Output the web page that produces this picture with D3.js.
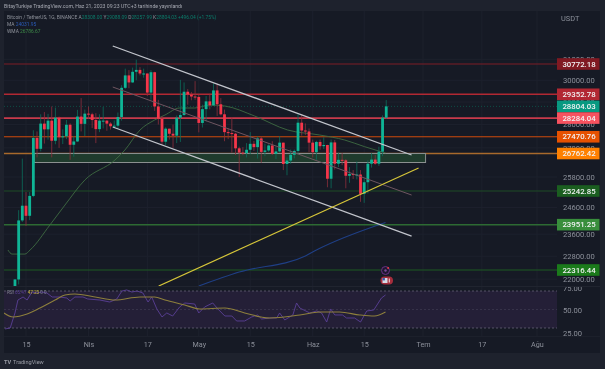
<!DOCTYPE html>
<html>
<head>
<meta charset="utf-8">
<script src="https://cdn.jsdelivr.net/npm/d3@7"></script>
<style>
  html, body { margin: 0; padding: 0; background: #1e222d; overflow: hidden; }
  svg { display: block; filter: blur(0.35px); }
  text { font-family: Roboto, "Open Sans", sans-serif; }
  .axis path, .axis line { display: none; }
</style>
</head>
<body>
<div id="chart"></div>
<script>
// Daily candles, first one is 2023-03-12
const opens = [20620,21990,24110,24670,24285,25050,27420,26960,28040,27790,28170,27300,28300,27450,27490,27990,27130,27270,28350,28030,
  28480,28450,28200,27800,28170,28170,28040,27925,27950,28330,29650,30230,29900,30400,30490,30320,30320,29430,30380,28800,28250,27260,27820,27600,27520,28300,28420,29470,29340,29250,
  29230,28070,28680,29030,28850,29530,28900,28450,27670,27630,27600,26980,26800,26780,26920,27170,27030,27400,26830,26890,27100,26750,26850,27220,26330,26470,26710,26870,28080,27740,27700,
  27220,26820,27250,27070,27120,25730,27230,26340,26500,26480,25850,25920,25900,25900,25130,25590,26340,26510,26340,26840,28300];
const highs = [22000,24500,26550,25200,25200,27750,27700,28450,28550,28470,28800,28750,28350,27790,28200,28050,27500,28650,29180,28660,
  28800,28520,28500,28450,28780,28190,28100,28180,28530,29770,30550,30480,30600,30980,30620,30550,30320,30480,30400,29100,28370,27880,27820,28000,28400,30020,29900,29590,29460,29960,
  29340,28880,29270,29380,29850,29840,29180,28660,27830,28330,27640,27050,27030,27200,27670,27290,27480,27480,27180,27150,27280,27050,27500,27220,26600,26930,26930,28450,28440,28050,27830,
  27350,27300,27350,27450,27130,27350,27330,26800,26780,26530,26200,26080,26430,26080,25750,26480,26780,26700,27050,28400,29088];
const lows = [20430,21820,24050,23900,24120,25000,26600,26850,27180,27350,26600,27150,27000,27160,27370,26500,26630,27250,27700,27500,
  28250,27850,27200,27670,27830,27730,27780,27880,27800,28170,29600,29630,29880,30000,30230,30120,29270,29100,28600,28000,27130,27120,27350,27000,27200,27250,28380,28880,29080,29100,
  27660,27870,28130,28670,28830,28380,28400,27280,27370,26800,26700,25800,26690,26600,26730,26870,26550,26380,26650,26830,26700,26530,26800,26080,25870,26340,26560,26760,27520,27550,26820,
  26600,26500,26920,26950,25390,25350,26100,26200,26280,25350,25570,25720,25700,24820,24780,25150,26180,26300,26250,26650,28257];
const closes = [21990,24110,24670,24285,25050,27420,26960,28040,27790,28170,27300,28300,27450,27490,27990,27130,27270,28350,28030,28480,
  28450,28200,27800,28170,28170,28040,27925,27950,28330,29650,30230,29900,30400,30490,30320,30320,29430,30380,28800,28250,27260,27820,27600,27520,28300,28420,29470,29340,29250,29230,
  28070,28680,29030,28850,29530,28900,28450,27670,27630,27600,26980,26800,26780,26920,27170,27030,27400,26830,26890,27100,26750,26850,27220,26330,26470,26710,26870,28080,27740,27700,27220,
  26820,27250,27070,27120,25730,27230,26340,26500,26480,25850,25920,25900,25900,25130,25590,26340,26510,26340,26840,28300,28804.03];

// Moving averages and RSI: days counted from 15 March
const wmaDays = [-4.9,-3.8,-0.3,1.1,6.5,10.6,16,24.2,26.9,31,35,37.8,41.8,45.9,50,54.1,62.2,71.2,79.9,86.7,92.1,97.8];
const wmaValues = [23022,22878,22878,23022,23938,24696,25678,26492,26908,27761,28198,28419,28731,28731,28866,28820,28374,27761,27546,27332,27050,26786.67];
const maDays = [47,58,76,79,97.8];
const maValues = [21766,22245,22810,23022,24031.95];
const rsiDays = [-5.7,-4.3,-3,-2.2,-0.8,0.3,1.6,3,4.3,5.7,7.1,9.2,11.1,12,13.3,15.5,16.8,20.1,22.8,24.7,26.1,27.4,28.8,30.2,31.8,33.2,34.2,35.6,37,38.3,39.9,41.8,43.2,45.9,47,48.6,50.8,52.2,54.1,56,57.3,59.5,61.4,63,64.1,66.3,68.2,69,70.4,72.6,73.6,74.5,77.2,79.1,80.4,81.8,82.9,84,86.1,87.2,89.4,91,92.7,94.6,96.7,97.8];
const rsiValues = [23.7,25,45.3,62.8,66.9,62.8,73.6,72.3,73.6,72.3,66.9,66.9,65.5,61.5,66.9,66.9,64.2,62.8,60.1,64.2,75,76.4,73.6,75,72.3,60.1,66.9,50.7,39.9,45.3,41.2,53.4,58.8,57.4,45.3,53.4,58.8,50.7,41.2,41.2,34.5,34.5,39.9,42.6,37.2,38.5,38.5,45.3,35.8,42.6,58.8,52,45.3,48,45.3,33.1,50.7,42.6,42.6,38.5,38.5,33.1,48,49.3,65.5,69.6];
const rsiMaDays = [-6,-3.5,0.3,3.8,7.9,10.6,13.3,18.8,24.2,31,35,37.8,43.2,47.3,54.1,59.5,66.3,74.5,79.9,85.3,90.8,94.8,97.8];
const rsiMaValues = [45.3,39.9,43.9,52,62.8,69.6,70.9,66.9,62.8,66.9,66.9,62.8,56.1,50.7,52,45.3,38.5,42.6,46.6,46.6,42.6,41.2,46.6];

// Drawn levels and trend lines
const levels = [30772.18,29352.78,28284.04,27470.76,26762.42,25242.85,23951.25,22316.44];
const lastPrice = 28804.03;
const zoneDays = [2.2,108.7];
const zonePrices = [26762.42,26390];
const channelTopDays = [23.6,104.9];
const channelTopPrices = [31649,26700];
const channelMidDays = [23.6,104.9];
const channelMidPrices = [29687,25084];
const channelLowDays = [23.6,104.9];
const channelLowPrices = [27892,23528];
const yellowDays = [36.1,106.8];
const yellowPrices = [21766,26163];

// Axis labels
const priceTicks = [31000,30000,29000,28000,27000,25800,24600,23600,22800,22000];
const rsiTicks = [75,50,25];
const timeTicks = ["2023-03-15","2023-04-01","2023-04-17","2023-05-01","2023-05-15","2023-06-01","2023-06-15","2023-07-01","2023-07-17","2023-08-01"];
const timeLabels = ["15","Nis","17","May","15","Haz","15","Tem","17","Ağu"];

const width = 605, height = 369;
const DAY = 864e5;
const parseDay = d3.utcParse("%Y-%m-%d");
const base = parseDay("2023-03-15");

const x = d3.scaleUtc().domain([base, parseDay("2023-07-01")]).range([26, 423]);
const y = d3.scaleLog().domain([22316.44, 30772.18]).range([270, 64]);
const rsiY = d3.scaleLinear().domain([25, 75]).range([328, 291]);
const rsiLabelY = d3.scaleLinear().domain([25, 75]).range([333, 288]);
const dayX = (n) => x(new Date(+base + n * DAY));

const svg = d3.select("#chart").append("svg").attr("width", width).attr("height", height);
svg.append("rect").attr("width", width).attr("height", height).attr("fill", "#1e222d");
svg.append("rect").attr("x", 4).attr("y", 11).attr("width", 596).attr("height", 342).attr("fill", "#161a25");

const defs = svg.append("defs");
defs.append("clipPath").attr("id", "main").append("rect").attr("x", 4).attr("y", 11).attr("width", 553).attr("height", 275);
defs.append("clipPath").attr("id", "pane").append("rect").attr("x", 4).attr("y", 287).attr("width", 553).attr("height", 49);
defs.append("clipPath").attr("id", "paneAxis").append("rect").attr("x", 557).attr("y", 287).attr("width", 43).attr("height", 49);

// Grid
svg.append("g").selectAll("line").data(timeTicks).join("line")
  .attr("x1", (d) => x(parseDay(d))).attr("x2", (d) => x(parseDay(d)))
  .attr("y1", 11).attr("y2", 336).attr("stroke", "#1d212d").attr("stroke-width", 1);
svg.append("g").selectAll("line").data(priceTicks).join("line")
  .attr("x1", 4).attr("x2", 557).attr("y1", (d) => y(d)).attr("y2", (d) => y(d))
  .attr("stroke", "#1d212d").attr("stroke-width", 1);
svg.append("line").attr("x1", 4).attr("x2", 600).attr("y1", 286.5).attr("y2", 286.5).attr("stroke", "#20242f");
svg.append("line").attr("x1", 4).attr("x2", 600).attr("y1", 336.5).attr("y2", 336.5).attr("stroke", "#1c202b");

const main = svg.append("g").attr("clip-path", "url(#main)");

// Support / resistance lines
const levelColors = ["#7d1d27","#b22833","#c93a4b","#d14a0c","#a86a2c","#1f4d26","#2d6a33","#1c5a22"];
const levelWidths = [1,1.6,1.8,1,1.5,1,1.5,1];
main.append("g").selectAll("line").data(levels).join("line")
  .attr("x1", 4).attr("x2", 557).attr("y1", (d) => y(d)).attr("y2", (d) => y(d))
  .attr("stroke", (d, i) => levelColors[i]).attr("stroke-width", (d, i) => levelWidths[i]);
main.append("line").attr("x1", 4).attr("x2", 557).attr("y1", y(lastPrice)).attr("y2", y(lastPrice))
  .attr("stroke", "#0d5a4c").attr("stroke-width", 0.8).attr("stroke-dasharray", "1 2");

// Demand zone
main.append("rect")
  .attr("x", dayX(zoneDays[0])).attr("y", y(zonePrices[0]))
  .attr("width", dayX(zoneDays[1]) - dayX(zoneDays[0])).attr("height", y(zonePrices[1]) - y(zonePrices[0]))
  .attr("fill", "#1f3b2d").attr("stroke", "#8b9090").attr("stroke-width", 1);

// Moving averages
const line = d3.line().x((d) => dayX(d[0])).y((d) => y(d[1])).curve(d3.curveMonotoneX);
main.append("path").attr("d", line(d3.zip(wmaDays, wmaValues)))
  .attr("fill", "none").attr("stroke", "#3e6b42").attr("stroke-width", 0.9);
main.append("path").attr("d", line(d3.zip(maDays, maValues)))
  .attr("fill", "none").attr("stroke", "#1f3f85").attr("stroke-width", 1.1);

// Candles
const candles = closes.map((c, i) => ({ day: i - 3, o: opens[i], h: highs[i], l: lows[i], c }));
const up = (d) => d.c >= d.o;
const candleG = main.append("g").selectAll("g").data(candles).join("g");
candleG.append("line")
  .attr("x1", (d) => dayX(d.day)).attr("x2", (d) => dayX(d.day))
  .attr("y1", (d) => y(d.h)).attr("y2", (d) => y(d.l))
  .attr("stroke", (d) => up(d) ? "#0b6e5c" : "#8e2f3c").attr("stroke-width", 0.8);
candleG.append("rect")
  .attr("x", (d) => dayX(d.day) - 1.4).attr("width", 2.8)
  .attr("y", (d) => y(Math.max(d.o, d.c)))
  .attr("height", (d) => Math.max(1, Math.abs(y(d.o) - y(d.c))))
  .attr("fill", (d) => up(d) ? "#0fb596" : "#f5364a");

// Trend lines
const straight = d3.line().x((d) => dayX(d[0])).y((d) => y(d[1]));
main.append("path").attr("d", straight(d3.zip(channelMidDays, channelMidPrices)))
  .attr("fill", "none").attr("stroke", "#6e5560").attr("stroke-width", 1);
main.append("path").attr("d", straight(d3.zip(channelTopDays, channelTopPrices)))
  .attr("fill", "none").attr("stroke", "#c2c5cc").attr("stroke-width", 1.3);
main.append("path").attr("d", straight(d3.zip(channelLowDays, channelLowPrices)))
  .attr("fill", "none").attr("stroke", "#c2c5cc").attr("stroke-width", 1.3);
main.append("path").attr("d", straight(d3.zip(yellowDays, yellowPrices)))
  .attr("fill", "none").attr("stroke", "#d6c63a").attr("stroke-width", 1.2);

// Event icons
const eventX = dayX(97.8);
main.append("circle").attr("cx", eventX).attr("cy", 270.5).attr("r", 4)
  .attr("fill", "#1e1830").attr("stroke", "#6a2f86").attr("stroke-width", 1);
main.append("circle").attr("cx", eventX).attr("cy", 270.5).attr("r", 1.2).attr("fill", "#7a4a9a");
main.append("circle").attr("cx", eventX + 2.6).attr("cy", 268).attr("r", 1).attr("fill", "#e53945");
main.append("rect").attr("x", eventX - 5).attr("y", 276.5).attr("width", 12.5).attr("height", 8).attr("rx", 4).attr("fill", "#a52d3c");
main.append("rect").attr("x", eventX - 3).attr("y", 278).attr("width", 5).attr("height", 5).attr("fill", "#d7dbe6");
main.append("rect").attr("x", eventX - 3).attr("y", 278).attr("width", 2.4).attr("height", 2.4).attr("fill", "#3d5aa8");
main.append("rect").attr("x", eventX + 3.2).attr("y", 278.5).attr("width", 1.2).attr("height", 4).attr("fill", "#e6c9cc");

// RSI pane
const pane = svg.append("g").attr("clip-path", "url(#pane)");
pane.append("rect").attr("x", 4).attr("y", rsiY(75)).attr("width", 553).attr("height", rsiY(25) - rsiY(75)).attr("fill", "#241f37");
pane.append("g").selectAll("line").data(rsiTicks).join("line")
  .attr("x1", 4).attr("x2", 557).attr("y1", (d) => rsiY(d)).attr("y2", (d) => rsiY(d))
  .attr("stroke", (d) => d === 50 ? "#3f3b52" : "#6d6a80").attr("stroke-width", 0.7).attr("stroke-dasharray", "2 2");
const rsiLine = d3.line().x((d) => dayX(d[0])).y((d) => rsiY(d[1]));
pane.append("path").attr("d", rsiLine(d3.zip(rsiDays, rsiValues)))
  .attr("fill", "none").attr("stroke", "#5a3f96").attr("stroke-width", 0.9);
pane.append("path").attr("d", rsiLine.curve(d3.curveMonotoneX)(d3.zip(rsiMaDays, rsiMaValues)))
  .attr("fill", "none").attr("stroke", "#8d7f3c").attr("stroke-width", 1.1);

// Price axis
svg.append("g").attr("class", "axis").attr("transform", "translate(559,0)")
  .call(d3.axisRight(y).tickValues(priceTicks).tickSize(0).tickPadding(4).tickFormat(d3.format(".2f")))
  .selectAll("text").attr("fill", "#8c909a").attr("font-size", 7.6);
// the 75 label is cut by the pane border, like the reference
svg.append("g").attr("clip-path", "url(#paneAxis)").append("g").attr("class", "axis").attr("transform", "translate(559,0)")
  .call(d3.axisRight(rsiLabelY).tickValues(rsiTicks).tickSize(0).tickPadding(4).tickFormat(d3.format(".2f")))
  .selectAll("text").attr("fill", "#8c909a").attr("font-size", 7.6);

// Price tags
const tagValues = [30772.18,29352.78,28804.03,28284.04,27470.76,26762.42,25242.85,23951.25,22316.44];
const tagColors = ["#801922","#b22833","#089981","#f7525f","#e65100","#ff8000","#1b5e20","#388e3c","#1b7a1b"];
const tags = svg.append("g").selectAll("g").data(tagValues).join("g")
  .attr("transform", (d) => `translate(557,${y(d)})`);
tags.append("rect").attr("y", -5.8).attr("width", 42.5).attr("height", 11.6).attr("fill", (d, i) => tagColors[i]);
tags.append("text").attr("x", 22).attr("text-anchor", "middle").attr("dy", "0.34em")
  .attr("fill", "#f2f3f5").attr("font-size", 7.8).attr("font-weight", 500).text((d) => d3.format(".2f")(d));

svg.append("text").attr("x", 561).attr("y", 21).attr("fill", "#8c909a").attr("font-size", 7.4).text("USDT");

// Time axis
svg.append("g").attr("class", "axis").attr("transform", "translate(0,340)")
  .call(d3.axisBottom(x).tickValues(timeTicks.map(parseDay)).tickSize(0).tickPadding(2)
    .tickFormat((d, i) => timeLabels[i]))
  .selectAll("text").attr("fill", "#8c909a").attr("font-size", 7.2);

// Title and legend
svg.append("text").attr("x", 4).attr("y", 8).attr("fill", "#a6a9b2").attr("font-size", 5.2)
  .text("BitayTurkiye TradingView.com, Haz 21, 2023 09:23 UTC+3 tarihinde yayınlandı");

const legend = svg.append("text").attr("x", 7).attr("y", 19).attr("font-size", 4.9).attr("fill", "#8f939c");
legend.append("tspan").text("Bitcoin / TetherUS, 1G, BINANCE  A");
legend.append("tspan").attr("fill", "#0b7d6b").text("28308.00");
legend.append("tspan").text(" Y");
legend.append("tspan").attr("fill", "#0b7d6b").text("29088.09");
legend.append("tspan").text(" D");
legend.append("tspan").attr("fill", "#0b7d6b").text("28257.99");
legend.append("tspan").text(" K");
legend.append("tspan").attr("fill", "#0b7d6b").text("28804.03 +496.04 (+1.75%)");

const legendMa = svg.append("text").attr("x", 7).attr("y", 26).attr("font-size", 4.9).attr("fill", "#8f939c");
legendMa.append("tspan").text("MA ");
legendMa.append("tspan").attr("fill", "#2a5bb8").text("24031.95");
const legendWma = svg.append("text").attr("x", 7).attr("y", 32.5).attr("font-size", 4.9).attr("fill", "#8f939c");
legendWma.append("tspan").text("WMA ");
legendWma.append("tspan").attr("fill", "#3e8a48").text("26786.67");

const legendRsi = svg.append("text").attr("x", 7).attr("y", 294).attr("font-size", 4.6).attr("fill", "#7d7f8c");
legendRsi.append("tspan").text("RSI ");
legendRsi.append("tspan").attr("fill", "#5a3f96").text("65.47 ");
legendRsi.append("tspan").attr("fill", "#c9b63e").text("47.23");
legendRsi.append("tspan").text(" 0  0");

// Logo
svg.append("text").attr("x", 4).attr("y", 364).attr("fill", "#9a9da6").attr("font-size", 5.6).attr("font-weight", 700).text("TV");
svg.append("text").attr("x", 13).attr("y", 364).attr("fill", "#9a9da6").attr("font-size", 5.6).text("TradingView");
</script>
</body>
</html>
